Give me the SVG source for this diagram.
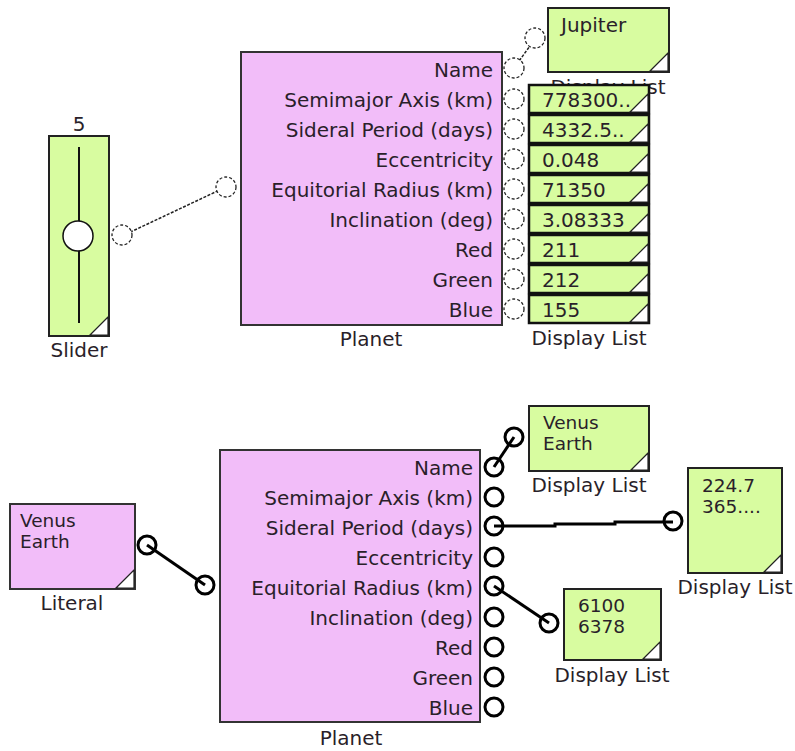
<svg xmlns="http://www.w3.org/2000/svg" width="795" height="751" viewBox="0 0 795 751">
<style>
text{font-family:"DejaVu Sans",Verdana,sans-serif;font-size:20px;fill:#2a1f2a}
.r{text-anchor:end}
.m{text-anchor:middle}
.ml{font-size:18.5px}
.pink{fill:#f2bdf9;stroke:#333;stroke-width:2}
.green{fill:#d8fca0;stroke:#222;stroke-width:2}
.cell{fill:#d8fca0;stroke:#111;stroke-width:2.5}
.tri{fill:#fff;stroke:#222;stroke-width:1.2}
.dp{fill:#fff;stroke:#222;stroke-width:1.3;stroke-dasharray:3 2}
.sp{fill:none;stroke:#000;stroke-width:3}
.dl{stroke:#222;stroke-width:1.5;stroke-dasharray:3 1.5;fill:none}
.sl{stroke:#000;stroke-width:3;fill:none}
</style>
<g id="connectors">
<line class="dl" x1="122" y1="236" x2="226" y2="187"/>
<line class="dl" x1="514" y1="68" x2="535" y2="39"/>
<line class="sl" x1="147" y1="545" x2="205" y2="585"/>
<line class="sl" x1="494" y1="467" x2="514" y2="437"/>
<polyline class="sl" points="494,526 555,526 555,524 615,524 615,522 673,522"/>
<line class="sl" x1="494" y1="586" x2="549" y2="623"/>
</g>
<g id="slider">
<text class="m" x="79" y="131">5</text>
<rect class="green" x="49" y="136" width="60" height="200"/>
<line x1="79" y1="147" x2="79" y2="323" stroke="#111" stroke-width="2"/>
<circle cx="78" cy="236" r="15" fill="#fff" stroke="#111" stroke-width="1.5"/>
<polygon class="tri" points="90,335 108,335 108,317"/>
<text class="m" x="79" y="357">Slider</text>
<circle class="dp" cx="122" cy="235" r="10"/>
</g>
<g id="planet1">
<rect class="pink" x="241" y="52" width="261" height="273"/>
<text class="r" x="493" y="77">Name</text>
<text class="r" x="493" y="107">Semimajor Axis (km)</text>
<text class="r" x="493" y="137">Sideral Period (days)</text>
<text class="r" x="493" y="167">Eccentricity</text>
<text class="r" x="493" y="197">Equitorial Radius (km)</text>
<text class="r" x="493" y="227">Inclination (deg)</text>
<text class="r" x="493" y="257">Red</text>
<text class="r" x="493" y="287">Green</text>
<text class="r" x="493" y="317">Blue</text>
<circle class="dp" cx="226" cy="187" r="10"/>
<circle class="dp" cx="514" cy="68" r="10"/>
<circle class="dp" cx="514" cy="99" r="10"/>
<circle class="dp" cx="514" cy="129" r="10"/>
<circle class="dp" cx="514" cy="159" r="10"/>
<circle class="dp" cx="514" cy="189" r="10"/>
<circle class="dp" cx="514" cy="219" r="10"/>
<circle class="dp" cx="514" cy="249" r="10"/>
<circle class="dp" cx="514" cy="279" r="10"/>
<circle class="dp" cx="514" cy="309" r="10"/>
<text class="m" x="371" y="346">Planet</text>
</g>
<g id="display-jupiter">
<rect class="green" x="548" y="8" width="121" height="64"/>
<polygon class="tri" points="650,71 668,71 668,53"/>
<text x="561" y="32">Jupiter</text>
<text class="m" x="608" y="94">Display List</text>
<circle class="dp" cx="535" cy="38" r="10"/>
</g>
<g id="display-stack">
<rect class="cell" x="529" y="85" width="120" height="28"/>
<rect class="cell" x="529" y="115" width="120" height="28"/>
<rect class="cell" x="529" y="145" width="120" height="28"/>
<rect class="cell" x="529" y="175" width="120" height="28"/>
<rect class="cell" x="529" y="205" width="120" height="28"/>
<rect class="cell" x="529" y="235" width="120" height="28"/>
<rect class="cell" x="529" y="265" width="120" height="28"/>
<rect class="cell" x="529" y="295" width="120" height="28"/>
<g class="tri">
<polygon points="630,112 648,112 648,94"/>
<polygon points="630,142 648,142 648,124"/>
<polygon points="630,172 648,172 648,154"/>
<polygon points="630,202 648,202 648,184"/>
<polygon points="630,232 648,232 648,214"/>
<polygon points="630,262 648,262 648,244"/>
<polygon points="630,292 648,292 648,274"/>
<polygon points="630,322 648,322 648,304"/>
</g>
<text x="542" y="107">778300..</text>
<text x="542" y="137">4332.5..</text>
<text x="542" y="167">0.048</text>
<text x="542" y="197">71350</text>
<text x="542" y="227">3.08333</text>
<text x="542" y="257">211</text>
<text x="542" y="287">212</text>
<text x="542" y="317">155</text>
<text class="m" x="589" y="345">Display List</text>
</g>
<g id="literal">
<rect class="pink" x="10" y="504" width="125" height="85"/>
<polygon class="tri" points="116,588 134,588 134,570"/>
<text class="ml" x="20" y="527">Venus</text>
<text class="ml" x="20" y="548">Earth</text>
<text class="m" x="72" y="610">Literal</text>
<circle class="sp" cx="147" cy="545" r="9"/>
</g>
<g id="planet2">
<rect class="pink" x="220" y="450" width="260" height="272"/>
<text class="r" x="473" y="475">Name</text>
<text class="r" x="473" y="505">Semimajor Axis (km)</text>
<text class="r" x="473" y="535">Sideral Period (days)</text>
<text class="r" x="473" y="565">Eccentricity</text>
<text class="r" x="473" y="595">Equitorial Radius (km)</text>
<text class="r" x="473" y="625">Inclination (deg)</text>
<text class="r" x="473" y="655">Red</text>
<text class="r" x="473" y="685">Green</text>
<text class="r" x="473" y="715">Blue</text>
<circle class="sp" cx="205" cy="585" r="9"/>
<circle class="sp" cx="494" cy="467" r="9"/>
<circle class="sp" cx="494" cy="497" r="9"/>
<circle class="sp" cx="494" cy="526" r="9"/>
<circle class="sp" cx="494" cy="557" r="9"/>
<circle class="sp" cx="494" cy="586" r="9"/>
<circle class="sp" cx="494" cy="617" r="9"/>
<circle class="sp" cx="494" cy="647" r="9"/>
<circle class="sp" cx="494" cy="677" r="9"/>
<circle class="sp" cx="494" cy="707" r="9"/>
<text class="m" x="351" y="745">Planet</text>
</g>
<g id="display-names">
<rect class="green" x="529" y="406" width="120" height="65"/>
<polygon class="tri" points="631,470 648,470 648,453"/>
<text class="ml" x="543" y="429">Venus</text>
<text class="ml" x="543" y="450">Earth</text>
<text class="m" x="589" y="492">Display List</text>
<circle class="sp" cx="514" cy="437" r="9"/>
</g>
<g id="display-periods">
<rect class="green" x="688" y="468" width="94" height="105"/>
<polygon class="tri" points="764,572 781,572 781,555"/>
<text class="ml" x="702" y="492">224.7</text>
<text class="ml" x="702" y="513">365....</text>
<text class="m" x="735" y="594">Display List</text>
<circle class="sp" cx="673" cy="521" r="9"/>
</g>
<g id="display-radii">
<rect class="green" x="564" y="589" width="97" height="71"/>
<polygon class="tri" points="643,659 660,659 660,642"/>
<text class="ml" x="578" y="612">6100</text>
<text class="ml" x="578" y="633">6378</text>
<text class="m" x="612" y="682">Display List</text>
<circle class="sp" cx="549" cy="623" r="9"/>
</g>
</svg>
